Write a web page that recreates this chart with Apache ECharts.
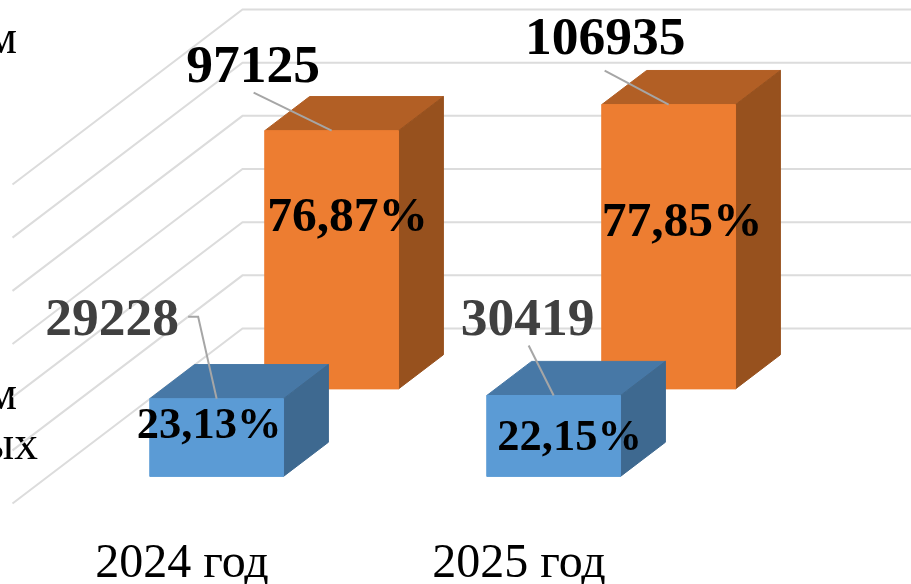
<!DOCTYPE html>
<html><head><meta charset="utf-8">
<style>html,body{margin:0;padding:0;background:#fff;overflow:hidden}#c{width:911px;height:584px}</style>
<script src="https://cdn.jsdelivr.net/npm/echarts@6/dist/echarts.min.js"></script>
</head><body><div id="c"></div>
<script>
const categories = ['2024 год', '2025 год'];
const axisTicks = [0, 20000, 40000, 60000, 80000, 100000, 120000];
const frontValues = [29228, 30419];
const backValues = [97125, 106935];
const frontShares = ['23,13%', '22,15%'];
const backShares = ['76,87%', '77,85%'];
const clippedLegendText = ['м', 'м', 'ых'];

const FONT = '"Liberation Serif","Times New Roman",serif';
const DEPTH = [230, 175];
const front = {depth: [0.155, 0.35], face: '#5b9bd5', top: '#4778a6', side: '#3e6990',
  share: frontShares, shareSize: 44.5, valueColor: '#404040',
  shareDy: [-11, 3], shareDx: [-7.5, 16], labelAt: [[-104.5, -78], [-26, -74]],
  leader: [[[-18.5, -82], [-28.5, -82]], [[-25, -50]]]};
const back = {depth: [0.655, 0.85], face: '#ed7d31', top: '#b25f25', side: '#97511e',
  share: backShares, shareSize: 49.5, valueColor: '#000000',
  shareDy: [-42, -24], shareDx: [16, 13.5], labelAt: [[-78.5, -63], [-63.5, -64]],
  leader: [[[-78, -38]], [[-64, -34]]]};

function project(p, d) { return [p[0] + DEPTH[0] * d, p[1] - DEPTH[1] * d]; }

function gridItem(params, api) {
  const p = api.coord([0, api.value(0)]);
  const left = params.coordSys.x;
  const right = left + params.coordSys.width;
  const a = [left, p[1]];
  const b = project(a, 1);
  const c = project([right, p[1]], 1);
  return {type: 'polyline', shape: {points: [a, b, c]}, silent: true,
    style: {stroke: '#dcdcdc', lineWidth: 2, fill: 'none'}};
}

function barRender(cfg) {
  return function (params, api) {
    const i = params.dataIndex;
    const v = api.value(1);
    const top = api.coord([api.value(0), v]);
    const base = api.coord([api.value(0), 0]);
    const hw = api.size([1, 0])[0] * 0.1985;
    const corner = (x, y, d) => project([x, y], d);
    const L = top[0] - hw, R = top[0] + hw, T = top[1], B = base[1];
    const [d0, d1] = cfg.depth;
    const poly = (pts, fill) => ({type: 'polygon', shape: {points: pts},
      style: {fill: fill, stroke: fill, lineWidth: 1}});
    const anchor = corner(top[0], T, d0);
    const center = corner(top[0], (T + B) / 2, d0);
    const leaderPts = [anchor].concat(cfg.leader[i].map(o => [anchor[0] + o[0], anchor[1] + o[1]]));
    const labelPt = [anchor[0] + cfg.labelAt[i][0], anchor[1] + cfg.labelAt[i][1]];
    return {type: 'group', children: [
      poly([corner(L, T, d0), corner(L, T, d1), corner(R, T, d1), corner(R, T, d0)], cfg.top),
      poly([corner(R, T, d0), corner(R, T, d1), corner(R, B, d1), corner(R, B, d0)], cfg.side),
      poly([corner(L, T, d0), corner(R, T, d0), corner(R, B, d0), corner(L, B, d0)], cfg.face),
      {type: 'polyline', shape: {points: leaderPts},
        style: {stroke: '#a6a6a6', lineWidth: 2, fill: 'none'}},
      {type: 'text', x: labelPt[0], y: labelPt[1],
        style: {text: String(v), font: 'bold 53.5px ' + FONT, fill: cfg.valueColor,
          align: 'center', verticalAlign: 'middle'}},
      {type: 'text', x: center[0] + cfg.shareDx[i], y: center[1] + cfg.shareDy[i],
        style: {text: cfg.share[i], font: 'bold ' + cfg.shareSize + 'px ' + FONT, fill: '#000',
          align: 'center', verticalAlign: 'middle'}}
    ]};
  };
}

const chart = echarts.init(document.getElementById('c'), null, {renderer: 'canvas'});
chart.setOption({
  animation: false,
  backgroundColor: '#ffffff',
  grid: {left: 12.5, width: 674, top: 184.5, bottom: 80.5, outerBoundsMode: 'none'},
  xAxis: {type: 'category', data: categories,
    axisLine: {show: false}, axisTick: {show: false},
    axisLabel: {fontFamily: FONT, fontSize: 48, color: '#000', margin: 36.5, padding: [0, 0, 0, 2]}},
  yAxis: {type: 'value', min: 0, max: 120000, interval: 20000,
    axisLine: {show: false}, axisTick: {show: false}, axisLabel: {show: false}, splitLine: {show: false}},
  graphic: [
    {type: 'text', x: 17, y: 41, style: {text: clippedLegendText[0], font: '47.5px ' + FONT, fill: '#000', align: 'right', verticalAlign: 'middle'}},
    {type: 'text', x: 17, y: 397, style: {text: clippedLegendText[1], font: '47.5px ' + FONT, fill: '#000', align: 'right', verticalAlign: 'middle'}},
    {type: 'text', x: 38, y: 447, style: {text: clippedLegendText[2], font: '47.5px ' + FONT, fill: '#000', align: 'right', verticalAlign: 'middle'}}
  ],
  series: [
    {type: 'custom', name: 'Сетка', coordinateSystem: 'cartesian2d', silent: true, z: 1,
      encode: {y: 0}, data: axisTicks.map(t => [t]), renderItem: gridItem, clip: false},
    {type: 'custom', name: 'Ряд 2', z: 2, clip: false, encode: {x: 0, y: 1},
      data: backValues.map((v, i) => [i, v]), renderItem: barRender(back)},
    {type: 'custom', name: 'Ряд 1', z: 3, clip: false, encode: {x: 0, y: 1},
      data: frontValues.map((v, i) => [i, v]), renderItem: barRender(front)}
  ]
});
</script></body></html>
